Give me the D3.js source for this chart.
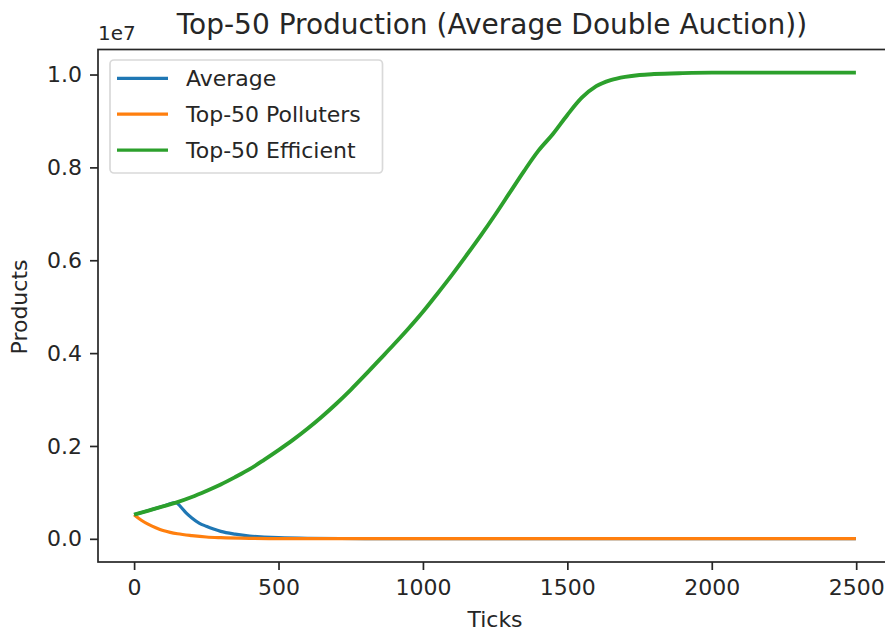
<!DOCTYPE html>
<html>
<head>
<meta charset="utf-8">
<script src="https://cdn.jsdelivr.net/npm/d3@7"></script>
<style>
  html, body { margin: 0; padding: 0; background: #fff; }
  svg { display: block; font-family: "DejaVu Sans", sans-serif; }
</style>
</head>
<body>
<svg id="chart" width="885" height="633"></svg>
<script>
// Production per tick for the three groups (products).
const averageTicks = [0, 50, 100, 145, 160, 180, 200, 225, 250, 275, 300, 350, 400, 450, 500, 600, 800, 1000, 1500, 2000, 2499];
const averageValues = [520000, 610000, 700000, 780000, 700000, 560000, 450000, 340000, 270000, 210000, 160000, 100000, 60000, 40000, 25000, 12000, 6000, 4000, 4000, 4000, 4000];

const pollutersTicks = [0, 25, 50, 75, 100, 125, 150, 200, 250, 300, 400, 500, 1000, 1500, 2000, 2499];
const pollutersValues = [520000, 400000, 310000, 240000, 180000, 140000, 110000, 70000, 40000, 25000, 10000, 5000, 3000, 3000, 3000, 3000];

const efficientTicks = [0, 50, 100, 145, 200, 250, 300, 350, 400, 450, 500, 550, 600, 650, 700, 750, 800, 850, 900, 950, 1000, 1050, 1100, 1150, 1200, 1250, 1300, 1350, 1400, 1450, 1500, 1550, 1600, 1650, 1700, 1750, 1800, 1900, 2000, 2100, 2200, 2300, 2400, 2499];
const efficientValues = [520000, 610000, 700000, 780000, 900000, 1030000, 1170000, 1330000, 1500000, 1700000, 1910000, 2130000, 2370000, 2630000, 2910000, 3210000, 3530000, 3860000, 4190000, 4530000, 4890000, 5280000, 5680000, 6100000, 6530000, 6980000, 7450000, 7920000, 8360000, 8720000, 9130000, 9500000, 9750000, 9880000, 9950000, 9990000, 10010000, 10030000, 10040000, 10040000, 10040000, 10040000, 10040000, 10040000];

const xTickValues = [0, 500, 1000, 1500, 2000, 2500];
const yTickValues = [0, 2000000, 4000000, 6000000, 8000000, 10000000];

const seriesNames = ["Average", "Top-50 Polluters", "Top-50 Efficient"];
const seriesColors = ["#1f77b4", "#ff7f0e", "#2ca02c"];

const series = [
  { name: seriesNames[0], color: seriesColors[0], pts: averageTicks.map((t, i) => [t, averageValues[i]]), width: 3.2 },
  { name: seriesNames[1], color: seriesColors[1], pts: pollutersTicks.map((t, i) => [t, pollutersValues[i]]), width: 3.2 },
  { name: seriesNames[2], color: seriesColors[2], pts: efficientTicks.map((t, i) => [t, efficientValues[i]]), width: 3.9 }
];

const svg = d3.select("#chart");
const plotLeft = 98, plotRight = 892, plotTop = 49.5, plotBottom = 562;

const x = d3.scaleLinear().domain([-125, 2624]).range([plotLeft, plotRight]);
const y = d3.scaleLinear().domain([-499000, 10539000]).range([plotBottom, plotTop]);

const ink = "#262626";
const fontSize = 22;

// lines
const line = d3.line().x(d => x(d[0])).y(d => y(d[1])).curve(d3.curveMonotoneX);
svg.append("defs").append("clipPath").attr("id", "plotClip")
  .append("rect").attr("x", plotLeft).attr("y", plotTop)
  .attr("width", plotRight - plotLeft).attr("height", plotBottom - plotTop);
const plot = svg.append("g").attr("clip-path", "url(#plotClip)");
series.forEach(s => {
  plot.append("path")
    .attr("d", line(s.pts))
    .attr("fill", "none")
    .attr("stroke", s.color)
    .attr("stroke-width", s.width)
    .attr("stroke-linejoin", "round")
    .attr("stroke-linecap", "butt");
});

// axes
const xAxis = d3.axisBottom(x).tickValues(xTickValues).tickSize(8).tickPadding(9).tickFormat(d3.format("d"));
const yAxis = d3.axisLeft(y).tickValues(yTickValues).tickSize(8).tickPadding(8).tickFormat(d => (d / 1e7).toFixed(1));

const gx = svg.append("g").attr("transform", `translate(0,${plotBottom})`).call(xAxis);
const gy = svg.append("g").attr("transform", `translate(${plotLeft},0)`).call(yAxis);
[gx, gy].forEach(g => {
  g.select(".domain").remove();
  g.selectAll("line").attr("stroke", ink).attr("stroke-width", 1.7);
  g.selectAll("text").attr("fill", ink).style("font-size", fontSize + "px").style("font-family", "DejaVu Sans");
});

// spines
svg.append("rect")
  .attr("x", plotLeft).attr("y", plotTop)
  .attr("width", plotRight - plotLeft).attr("height", plotBottom - plotTop)
  .attr("fill", "none").attr("stroke", ink).attr("stroke-width", 1.7);

// offset label
svg.append("text").attr("x", plotLeft).attr("y", 40)
  .attr("fill", ink).style("font-size", "20px").text("1e7");

// title
svg.append("text").attr("x", 492).attr("y", 34).attr("text-anchor", "middle")
  .attr("fill", ink).style("font-size", "28px").text("Top-50 Production (Average Double Auction))");

// axis labels
svg.append("text").attr("x", 495).attr("y", 627).attr("text-anchor", "middle")
  .attr("fill", ink).style("font-size", fontSize + "px").text("Ticks");
svg.append("text").attr("transform", "translate(27,307) rotate(-90)").attr("text-anchor", "middle")
  .attr("fill", ink).style("font-size", fontSize + "px").text("Products");

// legend
const lg = svg.append("g");
lg.append("rect").attr("x", 110).attr("y", 60).attr("width", 272.5).attr("height", 113)
  .attr("rx", 4).attr("fill", "#fff").attr("fill-opacity", 0.8)
  .attr("stroke", "#d9d9d9").attr("stroke-width", 1.7);
series.forEach((s, i) => {
  const yy = 78.3 + i * 35.9;
  lg.append("line").attr("x1", 117).attr("x2", 168).attr("y1", yy).attr("y2", yy)
    .attr("stroke", s.color).attr("stroke-width", 3.2);
  lg.append("text").attr("x", 186).attr("y", yy + 8)
    .attr("fill", ink).style("font-size", fontSize + "px").text(s.name);
});
</script>
</body>
</html>
